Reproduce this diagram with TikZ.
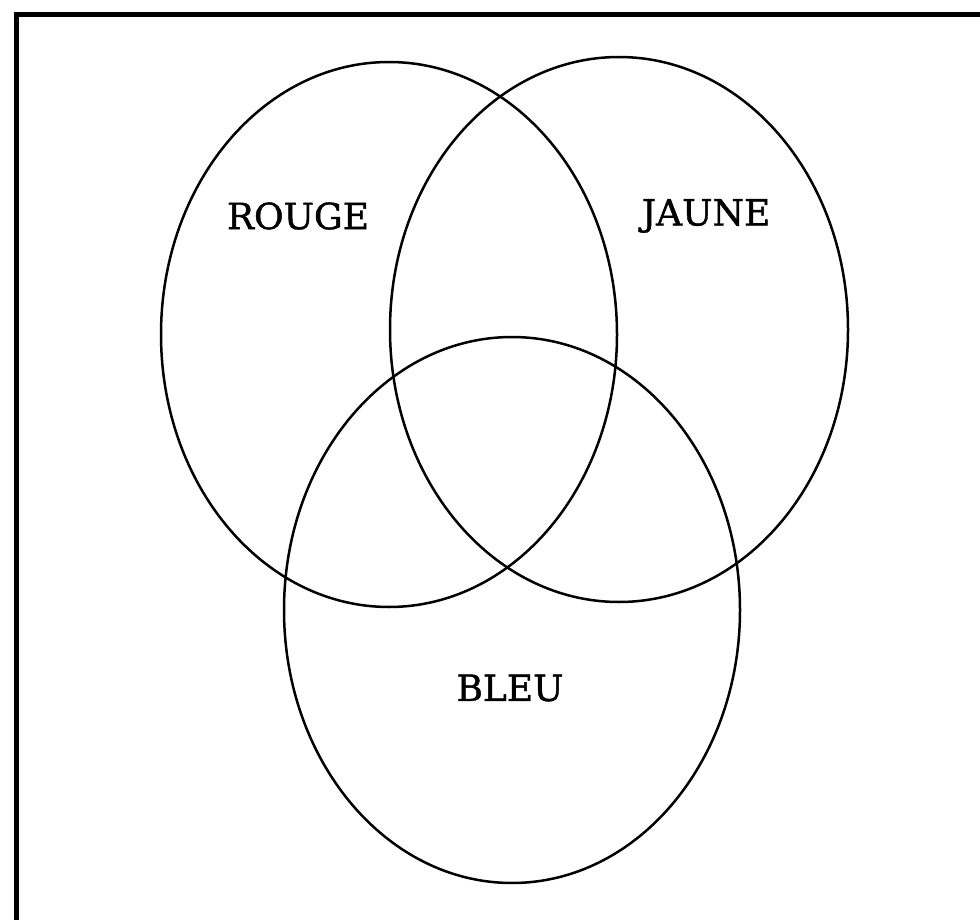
\documentclass[tikz,border=0pt]{standalone}
\usepackage{fontspec}
\setmainfont{DejaVu Serif}[FakeBold=1.2]
\begin{document}
\begin{tikzpicture}[x=1pt,y=-1pt,
  setring/.style={draw=black,line width=2.5pt},
  lbl/.style={font=\fontsize{36}{40}\selectfont,inner sep=0pt}]
\useasboundingbox (0,0) rectangle (980,920);
\fill[white] (0,0) rectangle (980,920);
\draw[line width=5pt] (16,14.5) rectangle (1010,960);
\draw[setring] (389,334.5) ellipse [x radius=228, y radius=272.5];
\draw[setring] (619,329.5) ellipse [x radius=229, y radius=272.5];
\draw[setring] (512,610) ellipse [x radius=228, y radius=273];
\node[lbl] (rouge) at (298,216) {ROUGE};
\node[lbl] (jaune) at (706,216) {JAUNE};
\node[lbl] (bleu) at (510,688) {BLEU};
\end{tikzpicture}
\end{document}
